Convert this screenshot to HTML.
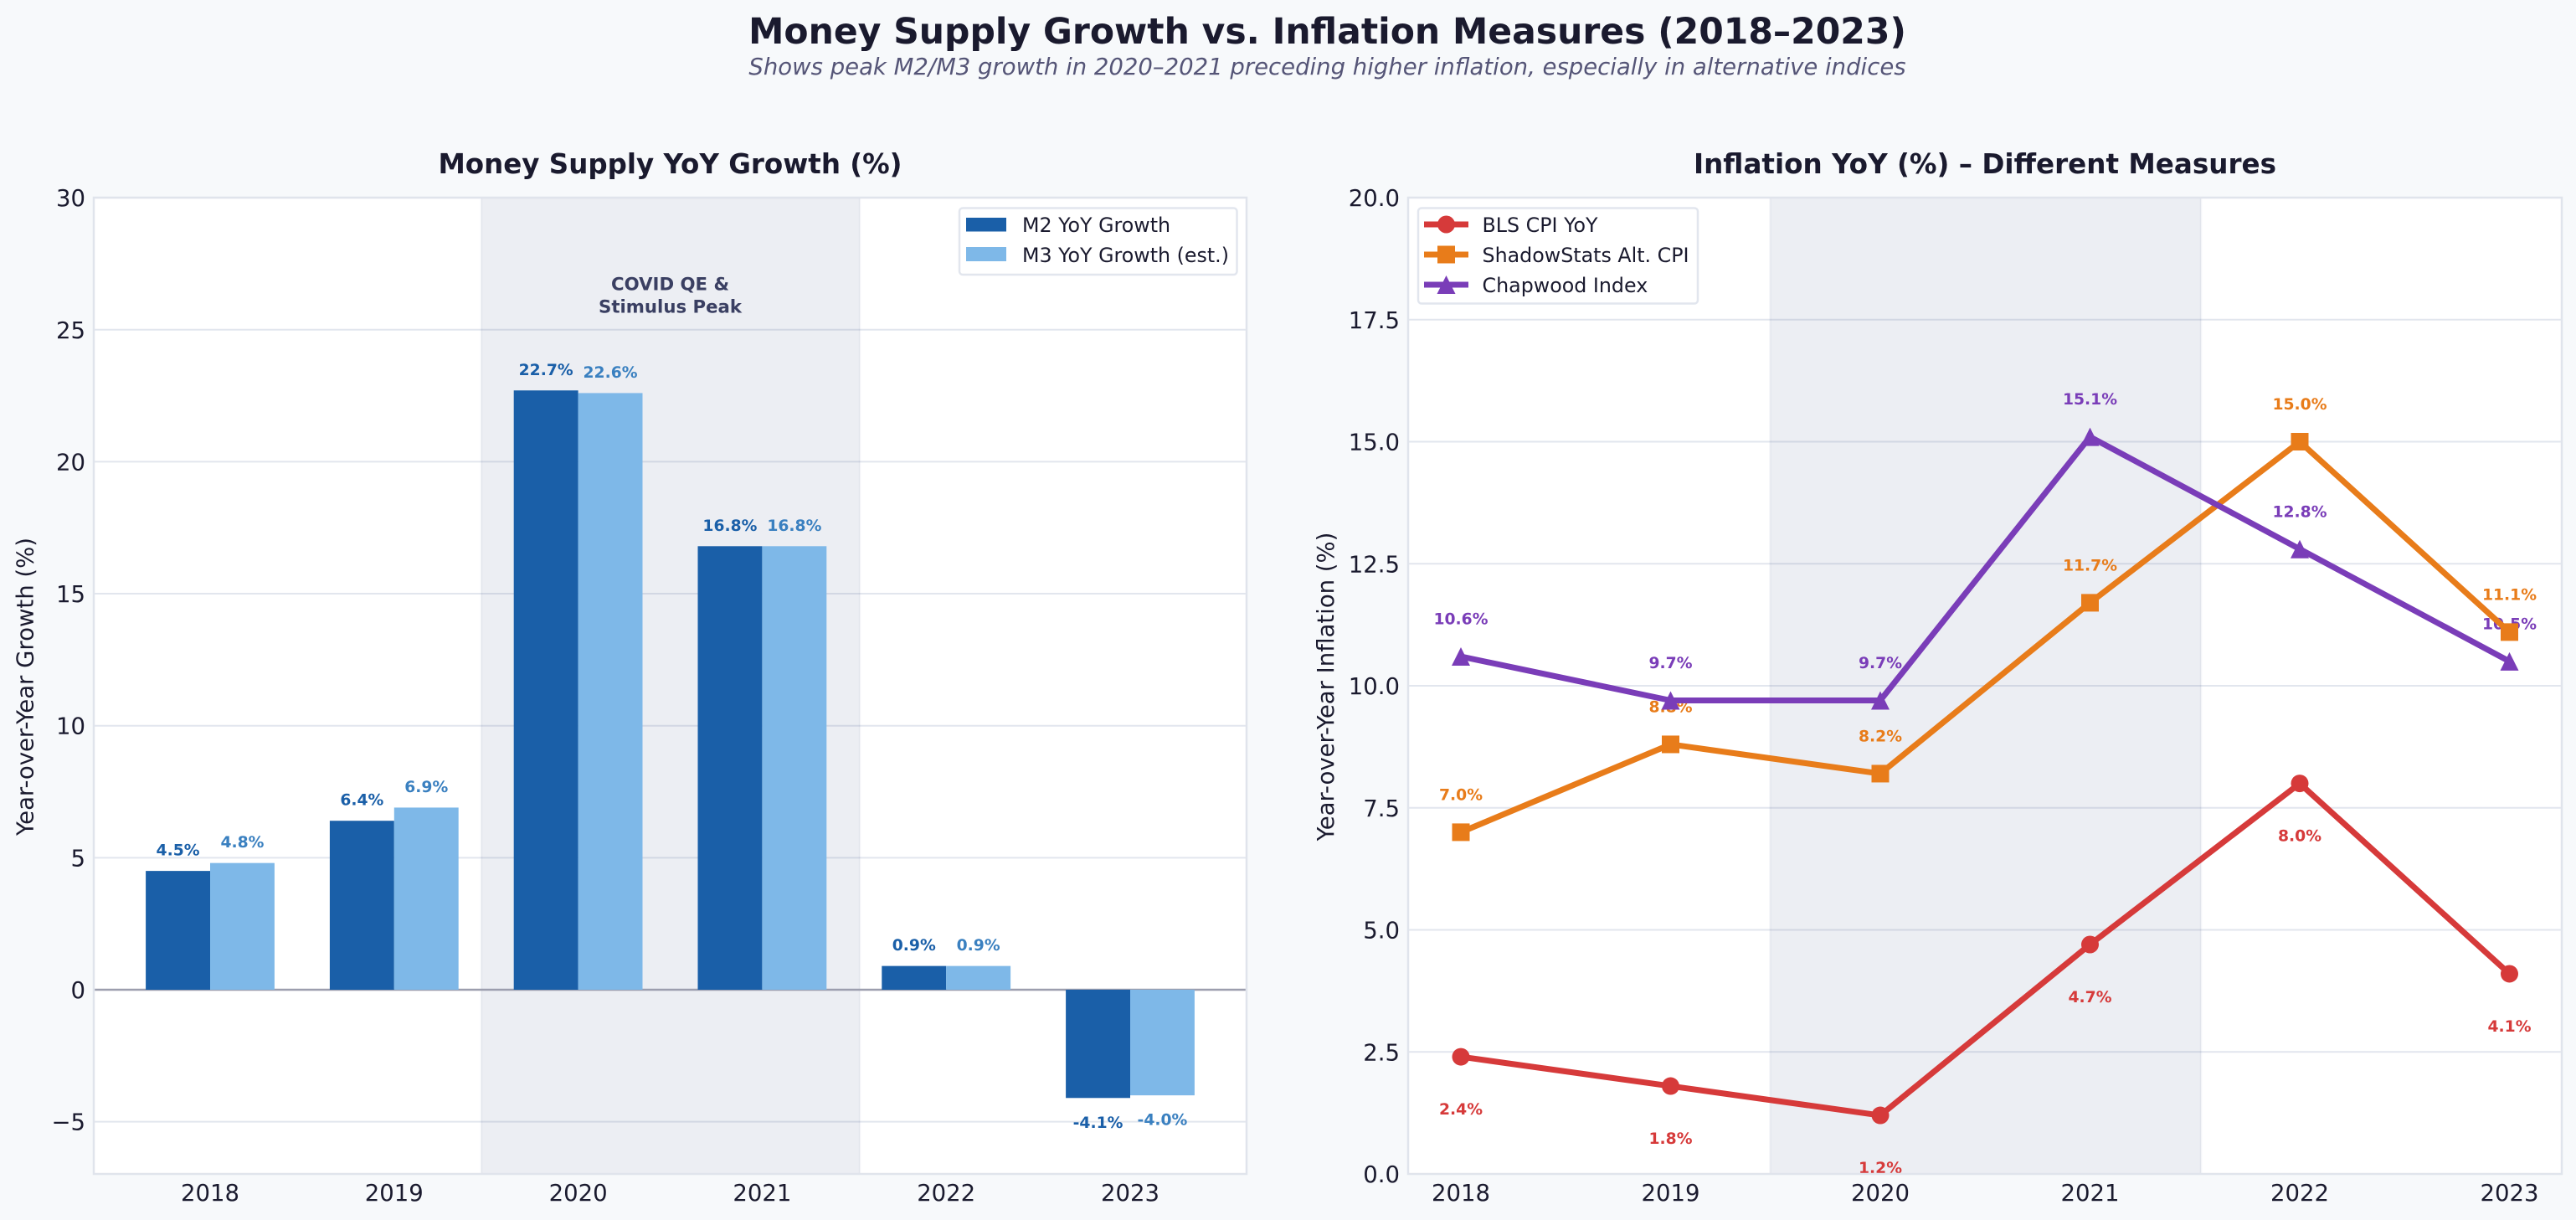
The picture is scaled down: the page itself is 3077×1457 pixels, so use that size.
<!DOCTYPE html>
<html lang="en">
<head>
<meta charset="utf-8">
<title>Money Supply Growth vs. Inflation Measures (2018–2023)</title>
<style>
  html, body { margin: 0; padding: 0; background: #f7f9fb; }
  svg { display: block; font-family: "DejaVu Sans", "Liberation Sans", sans-serif; }
  text { fill: #1a1a2e; }
</style>
</head>
<body>
<svg id="figure" xmlns="http://www.w3.org/2000/svg" width="3077" height="1457" viewBox="0 0 3077 1457">
  <rect x="0" y="0" width="3077" height="1457" fill="#f7f9fb"/>
  <text x="1585.5" y="52" text-anchor="middle" font-size="42.5" font-weight="700">Money Supply Growth vs. Inflation Measures (2018–2023)</text>
  <text x="1585.5" y="89" text-anchor="middle" font-size="27.5" font-style="italic" style="fill:#555577">Shows peak M2/M3 growth in 2020–2021 preceding higher inflation, especially in alternative indices</text>

  <g id="left-panel"></g>
  <g id="right-panel"></g>

  <text x="800.5" y="207" text-anchor="middle" font-size="32.5" font-weight="700">Money Supply YoY Growth (%)</text>
  <text transform="translate(39.5 820) rotate(-90)" text-anchor="middle" font-size="27.5">Year-over-Year Growth (%)</text>
  <text x="2371" y="207" text-anchor="middle" font-size="32.6" font-weight="700">Inflation YoY (%) – Different Measures</text>
  <text transform="translate(1593 820) rotate(-90)" text-anchor="middle" font-size="27.5">Year-over-Year Inflation (%)</text>

  <g>
    <rect x="1146" y="248.5" width="331.5" height="79.5" rx="4" fill="#ffffff" fill-opacity="0.92" stroke="#e2e6ee" stroke-width="2.5"/>
    <rect x="1154" y="260" width="48" height="16.5" fill="#1a5fa8"/>
    <text x="1221" y="277" font-size="23.75">M2 YoY Growth</text>
    <rect x="1154" y="295" width="48" height="17" fill="#7eb8e8"/>
    <text x="1221" y="313" font-size="23.75">M3 YoY Growth (est.)</text>
  </g>
  <g>
    <rect x="1694" y="248.5" width="334" height="114" rx="4" fill="#ffffff" fill-opacity="0.92" stroke="#e2e6ee" stroke-width="2.5"/>
    <line x1="1701" x2="1754" y1="268" y2="268" stroke="#d63a3a" stroke-width="7"/>
    <circle cx="1727.5" cy="268" r="10.5" fill="#d63a3a"/>
    <text x="1770.5" y="277" font-size="23.75">BLS CPI YoY</text>
    <line x1="1701" x2="1754" y1="304" y2="304" stroke="#e87c1a" stroke-width="7"/>
    <rect x="1717" y="293.5" width="21" height="21" fill="#e87c1a"/>
    <text x="1770.5" y="313" font-size="23.75">ShadowStats Alt. CPI</text>
    <line x1="1701" x2="1754" y1="340" y2="340" stroke="#7a3db8" stroke-width="7"/>
    <polygon points="1727.5,329 1738.5,351 1716.5,351" fill="#7a3db8"/>
    <text x="1770.5" y="349" font-size="23.75">Chapwood Index</text>
  </g>
</svg>

<script>
// ---------- chart data ----------
const categories = ['2018', '2019', '2020', '2021', '2022', '2023'];
const m2Growth = [4.5, 6.4, 22.7, 16.8, 0.9, -4.1];
const m3Growth = [4.8, 6.9, 22.6, 16.8, 0.9, -4.0];
const blsCpi = [2.4, 1.8, 1.2, 4.7, 8.0, 4.1];
const shadowStats = [7.0, 8.8, 8.2, 11.7, 15.0, 11.1];
const chapwood = [10.6, 9.7, 9.7, 15.1, 12.8, 10.5];
const leftTickValues = [-5, 0, 5, 10, 15, 20, 25, 30];
const leftTickLabels = ['−5', '0', '5', '10', '15', '20', '25', '30'];
const rightTickValues = [0, 2.5, 5, 7.5, 10, 12.5, 15, 17.5, 20];
const rightTickLabels = ['0.0', '2.5', '5.0', '7.5', '10.0', '12.5', '15.0', '17.5', '20.0'];
const covidNoteLines = ['COVID QE &', 'Stimulus Peak'];

// ---------- axis functions ----------
const TOP = 236, BOTTOM = 1402;
const leftX = i => 251 + i * 219.8;
const leftY = v => 1182 - v * 31.53;
const rightX = i => 1745 + i * 250.5;
const rightY = v => BOTTOM - v * 58.3;

const NS = 'http://www.w3.org/2000/svg';
function el(tag, parent, props, content) {
  const node = document.createElementNS(NS, tag);
  for (const k in props) node.setAttribute(k, props[k]);
  if (content !== undefined) node.textContent = content;
  parent.appendChild(node);
  return node;
}

function drawFrame(panel, prefix, x0, x1, shadeX0, shadeX1, tickValues, tickLabels, yFn, xFn, tickRight) {
  const bg = el('rect', panel, { x: x0, y: TOP, width: x1 - x0, height: BOTTOM - TOP, fill: '#ffffff' });
  
  

  tickValues.forEach((v, i) => {
    const y = yFn(v);
    const grid = el('line', panel, { x1: x0, x2: x1, y1: y, y2: y, stroke: '#e2e6ee', 'stroke-width': 2 });
    
    
    const tick = el('text', panel, { x: tickRight, y: y + 10, 'text-anchor': 'end', 'font-size': 27.5 }, tickLabels[i]);
    
    
  });

  const shade = el('rect', panel, { x: shadeX0, y: TOP, width: shadeX1 - shadeX0, height: BOTTOM - TOP, fill: 'rgb(65,90,140)', 'fill-opacity': 0.1 });
  
  
  [shadeX0, shadeX1].forEach(sx => {
    const edge = el('line', panel, { x1: sx, x2: sx, y1: TOP, y2: BOTTOM, stroke: 'rgb(65,90,140)', 'stroke-opacity': 0.06, 'stroke-width': 2.5 });
    
    
  });

  categories.forEach((c, i) => {
    const label = el('text', panel, { x: xFn(i), y: 1434, 'text-anchor': 'middle', 'font-size': 27.5 }, c);
    
    
  });
}

function drawSpines(panel, prefix, x0, x1) {
  const frame = el('rect', panel, { x: x0, y: TOP, width: x1 - x0, height: BOTTOM - TOP, fill: 'none', stroke: '#e0e4ec', 'stroke-width': 2.5 });
  
  
}

// ---------- left chart: grouped bars ----------
const leftPanel = document.getElementById('left-panel');
drawFrame(leftPanel, 'left', 112, 1489, 575, 1027, leftTickValues, leftTickLabels, leftY, leftX, 102);

const zero = el('line', leftPanel, { x1: 112, x2: 1489, y1: leftY(0), y2: leftY(0), stroke: '#9c9eae', 'stroke-width': 2.5 });



const barUnit = 76.9;
function drawBars(values, name, color, labelColor, side) {
  values.forEach((v, i) => {
    const left = side < 0 ? leftX(i) - barUnit : leftX(i);
    const top = Math.min(leftY(v), leftY(0));
    const h = Math.abs(leftY(v) - leftY(0));
    const bar = el('rect', leftPanel, { x: left, y: top, width: barUnit, height: h, fill: color });
    
    
    const baseline = v >= 0 ? leftY(v) - 18.5 : leftY(v) + 35.5;
    const txt = el('text', leftPanel, { x: left + barUnit / 2, y: baseline, 'text-anchor': 'middle', 'font-size': 18.75, 'font-weight': 700 }, v.toFixed(1) + '%');
    txt.style.fill = labelColor;
    
    
  });
}
drawBars(m2Growth, 'm2', '#1a5fa8', '#1a5fa8', -1);
drawBars(m3Growth, 'm3', '#7eb8e8', '#3a80c0', 1);

covidNoteLines.forEach((line, i) => {
  const note = el('text', leftPanel, { x: 800.5, y: 346.5 + i * 27, 'text-anchor': 'middle', 'font-size': 21.25, 'font-weight': 700 }, line);
  note.style.fill = '#3a3f62';
  
  
});
drawSpines(leftPanel, 'left', 112, 1489);

// ---------- right chart: lines ----------
const rightPanel = document.getElementById('right-panel');
drawFrame(rightPanel, 'right', 1682, 3060, 2114.5, 2629, rightTickValues, rightTickLabels, rightY, rightX, 1672);

function drawSeriesLabels(values, name, color, offset) {
  values.forEach((v, i) => {
    const txt = el('text', rightPanel, { x: rightX(i), y: rightY(v) + offset, 'text-anchor': 'middle', 'font-size': 18.75, 'font-weight': 700 }, v.toFixed(1) + '%');
    txt.style.fill = color;
    
    
  });
}
function drawSeries(values, name, color, shape) {
  const pts = values.map((v, i) => rightX(i) + ',' + rightY(v)).join(' ');
  const line = el('polyline', rightPanel, { points: pts, fill: 'none', stroke: color, 'stroke-width': 7, 'stroke-linejoin': 'round', 'stroke-linecap': 'square' });
  
  
  values.forEach((v, i) => {
    const cx = rightX(i), cy = rightY(v);
    let mark;
    if (shape === 'circle') {
      mark = el('circle', rightPanel, { cx: cx, cy: cy, r: 10.5, fill: color });
    } else if (shape === 'square') {
      mark = el('rect', rightPanel, { x: cx - 10.5, y: cy - 10.5, width: 21, height: 21, fill: color });
    } else {
      mark = el('polygon', rightPanel, { points: cx + ',' + (cy - 11) + ' ' + (cx + 11) + ',' + (cy + 11) + ' ' + (cx - 11) + ',' + (cy + 11), fill: color });
    }
    
    
  });
}
drawSeriesLabels(blsCpi, 'bls-cpi', '#d63a3a', 69);
drawSeriesLabels(shadowStats, 'shadowstats', '#e87c1a', -38.5);
drawSeriesLabels(chapwood, 'chapwood', '#7a3db8', -38.5);
drawSeries(blsCpi, 'bls-cpi', '#d63a3a', 'circle');
drawSeries(shadowStats, 'shadowstats', '#e87c1a', 'square');
drawSeries(chapwood, 'chapwood', '#7a3db8', 'triangle');
drawSpines(rightPanel, 'right', 1682, 3060);
</script>
</body>
</html>
